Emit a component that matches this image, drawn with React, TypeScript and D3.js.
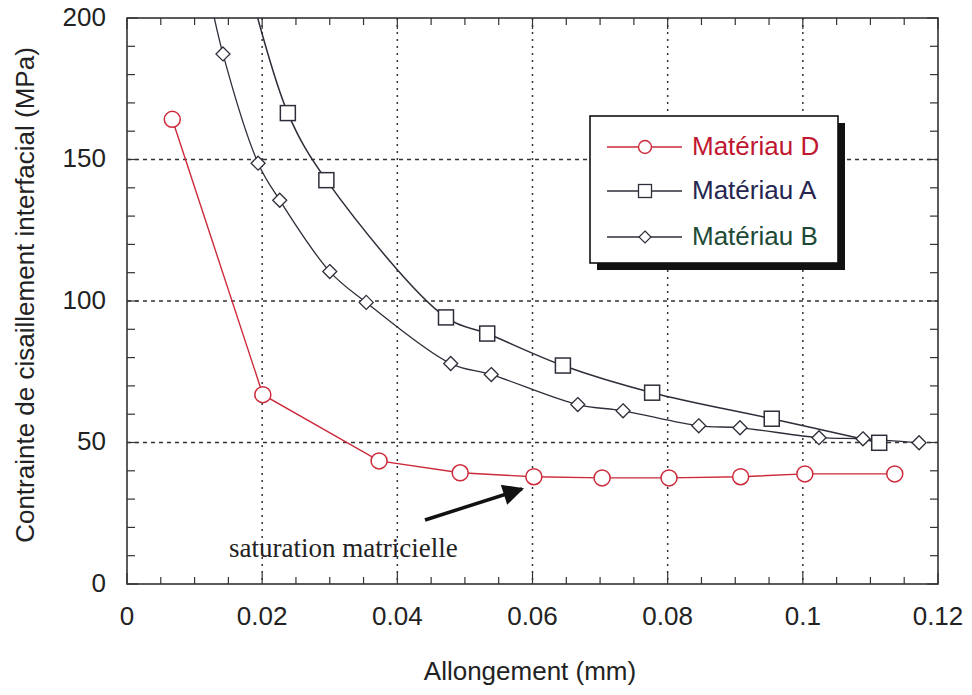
import React from "react";
import * as d3 from "d3";

// Data
const matDX = [0.0067, 0.0201, 0.0373, 0.0493, 0.0602, 0.0703, 0.0802, 0.0908, 0.1003, 0.1136];
const matDY = [164.2, 66.9, 43.5, 39.3, 37.9, 37.5, 37.5, 37.9, 38.9, 38.9];

const matAX = [0.018, 0.0238, 0.0295, 0.0472, 0.0533, 0.0645, 0.0777, 0.0954, 0.1113];
const matAY = [212, 166.4, 142.7, 94.2, 88.5, 77.2, 67.6, 58.4, 49.9];

const matBX = [0.0118, 0.0142, 0.0194, 0.0226, 0.03, 0.0354, 0.0479, 0.0539, 0.0667, 0.0734, 0.0846, 0.0907, 0.1024, 0.1089, 0.1172];
const matBY = [213, 187.3, 148.7, 135.6, 110.4, 99.5, 77.9, 74.0, 63.4, 61.2, 55.9, 55.2, 51.7, 51.3, 49.9];

const xTicks = [0, 0.02, 0.04, 0.06, 0.08, 0.1, 0.12];
const xTickLabels = ["0", "0.02", "0.04", "0.06", "0.08", "0.1", "0.12"];
const yTicks = [0, 50, 100, 150, 200];
const yTickLabels = ["0", "50", "100", "150", "200"];
const legendLabels = ["Matériau D", "Matériau A", "Matériau B"];

const W = 972, H = 695;
const L = 127, R = 938, T = 18, B = 584;

export default function App() {
  const x = d3.scaleLinear().domain([0, 0.12]).range([L, R]);
  const y = d3.scaleLinear().domain([0, 200]).range([B, T]);

  const red = "#cc2a3a";
  const dark = "#2e2e3a";
  const colA = "#262650";
  const colB = "#1d4a36";

  const zip = (xs: number[], ys: number[]) => xs.map((v, i) => [v, ys[i]] as [number, number]);
  const dD = zip(matDX, matDY);
  const dA = zip(matAX, matAY);
  const dB = zip(matBX, matBY);

  const lineLin = d3.line<[number, number]>().x(d => x(d[0])).y(d => y(d[1]));
  const lineCurve = d3.line<[number, number]>().x(d => x(d[0])).y(d => y(d[1])).curve(d3.curveCatmullRom.alpha(0.5));

  const xMinor = d3.range(0, 0.12001, 0.005);
  const yMinor = d3.range(0, 200.01, 10);

  const inPlot = (p: [number, number]) => p[1] <= 200;

  const font = "'Liberation Sans', Arial, Helvetica, sans-serif";

  // legend geometry
  const lx = 590, ly = 116, lw = 248, lh = 147;
  const rowsY = [147, 191, 237];

  const marker = (kind: string, cx: number, cy: number, key: string) => {
    if (kind === "circle")
      return <circle key={key} cx={cx} cy={cy} r={8} fill="white" stroke={red} strokeWidth={1.5} />;
    if (kind === "square")
      return <rect key={key} x={cx - 7.5} y={cy - 7.5} width={15} height={15} fill="white" stroke={dark} strokeWidth={1.5} />;
    const s = 7;
    return (
      <path key={key} d={`M${cx},${cy - s}L${cx + s},${cy}L${cx},${cy + s}L${cx - s},${cy}Z`} fill="white" stroke={dark} strokeWidth={1.3} />
    );
  };

  return (
    <svg width={W} height={H} style={{ position: "absolute", left: 0, top: 0, background: "white" }}>
      <defs>
        <clipPath id="plotclip">
          <rect x={L} y={T} width={R - L} height={B - T} />
        </clipPath>
        <marker id="arrowhead" viewBox="0 0 10 10" refX="9" refY="5" markerWidth="7" markerHeight="6" orient="auto" markerUnits="strokeWidth">
          <path d="M0,0L10,5L0,10Z" fill="#111" />
        </marker>
      </defs>

      {/* grid */}
      {xTicks.slice(1, -1).map((t, i) => (
        <line key={"gx" + i} x1={x(t)} x2={x(t)} y1={T} y2={B} stroke="#333" strokeWidth={1.5} strokeDasharray="2,5" />
      ))}
      {yTicks.slice(1, -1).map((t, i) => (
        <line key={"gy" + i} x1={L} x2={R} y1={y(t)} y2={y(t)} stroke="#333" strokeWidth={1.3} strokeDasharray="4,4" />
      ))}

      {/* minor/major ticks, inward on all four sides */}
      {xMinor.map((t, i) => {
        const major = Math.abs(t / 0.02 - Math.round(t / 0.02)) < 1e-6;
        const len = major ? 11 : 7;
        return (
          <g key={"xt" + i}>
            <line x1={x(t)} x2={x(t)} y1={B} y2={B - len} stroke="#333" strokeWidth={1.2} />
            <line x1={x(t)} x2={x(t)} y1={T} y2={T + len} stroke="#333" strokeWidth={1.2} />
          </g>
        );
      })}
      {yMinor.map((t, i) => {
        const major = Math.abs(t / 50 - Math.round(t / 50)) < 1e-6;
        const len = major ? 11 : 8;
        return (
          <g key={"yt" + i}>
            <line x1={L} x2={L + len} y1={y(t)} y2={y(t)} stroke="#333" strokeWidth={1.2} />
            <line x1={R} x2={R - len} y1={y(t)} y2={y(t)} stroke="#333" strokeWidth={1.2} />
          </g>
        );
      })}

      {/* frame */}
      <rect x={L} y={T} width={R - L} height={B - T} fill="none" stroke="#333" strokeWidth={1.6} />

      {/* lines */}
      <g clipPath="url(#plotclip)">
        <path d={lineLin(dD) || ""} fill="none" stroke={red} strokeWidth={1.4} />
        <path d={lineCurve(dA) || ""} fill="none" stroke={dark} strokeWidth={1.5} />
        <path d={lineCurve(dB) || ""} fill="none" stroke={dark} strokeWidth={1.3} />
      </g>

      {/* markers */}
      {dD.filter(inPlot).map((p, i) => marker("circle", x(p[0]), y(p[1]), "md" + i))}
      {dA.filter(inPlot).map((p, i) => marker("square", x(p[0]), y(p[1]), "ma" + i))}
      {dB.filter(inPlot).map((p, i) => marker("diamond", x(p[0]), y(p[1]), "mb" + i))}

      {/* tick labels */}
      {xTicks.map((t, i) => (
        <text key={"xl" + i} x={x(t)} y={618} textAnchor="middle" dominantBaseline="middle" fontFamily={font} fontSize={26} fill="#222">
          {xTickLabels[i]}
        </text>
      ))}
      {yTicks.map((t, i) => (
        <text key={"yl" + i} x={106} y={y(t) + 1} textAnchor="end" dominantBaseline="middle" fontFamily={font} fontSize={26} fill="#222">
          {yTickLabels[i]}
        </text>
      ))}

      {/* axis titles */}
      <text x={530} y={673} textAnchor="middle" dominantBaseline="middle" fontFamily={font} fontSize={26} fill="#222">
        Allongement (mm)
      </text>
      <text transform={`translate(34,295) rotate(-90)`} textAnchor="middle" fontFamily={font} fontSize={26} fill="#222">
        Contrainte de cisaillement interfacial (MPa)
      </text>

      {/* annotation */}
      <line x1={425} y1={520} x2={522} y2={489} stroke="#111" strokeWidth={3.5} markerEnd="url(#arrowhead)" />
      <text x={229} y={557} fontFamily="'Liberation Serif', 'Times New Roman', serif" fontSize={27} fill="#222">
        saturation matricielle
      </text>

      {/* legend */}
      <rect x={lx + 7} y={ly + 7} width={lw} height={lh} fill="#111" />
      <rect x={lx} y={ly} width={lw} height={lh} fill="white" stroke="#111" strokeWidth={1.6} />
      {legendLabels.map((lab, i) => {
        const cy = rowsY[i];
        const kind = i === 0 ? "circle" : i === 1 ? "square" : "diamond";
        const col = i === 0 ? red : dark;
        const tcol = i === 0 ? "#c01830" : i === 1 ? colA : colB;
        return (
          <g key={"lg" + i}>
            <line x1={607} x2={682} y1={cy} y2={cy} stroke={col} strokeWidth={1.3} />
            {kind === "circle" ? (
              <circle cx={645} cy={cy} r={6.5} fill="white" stroke={red} strokeWidth={1.4} />
            ) : kind === "square" ? (
              <rect x={638.5} y={cy - 6.5} width={13} height={13} fill="white" stroke={dark} strokeWidth={1.3} />
            ) : (
              <path d={`M645,${cy - 6}L651,${cy}L645,${cy + 6}L639,${cy}Z`} fill="white" stroke={dark} strokeWidth={1.2} />
            )}
            <text x={692} y={cy + 1} dominantBaseline="middle" fontFamily={font} fontSize={26} fill={tcol}>
              {lab}
            </text>
          </g>
        );
      })}
    </svg>
  );
}
